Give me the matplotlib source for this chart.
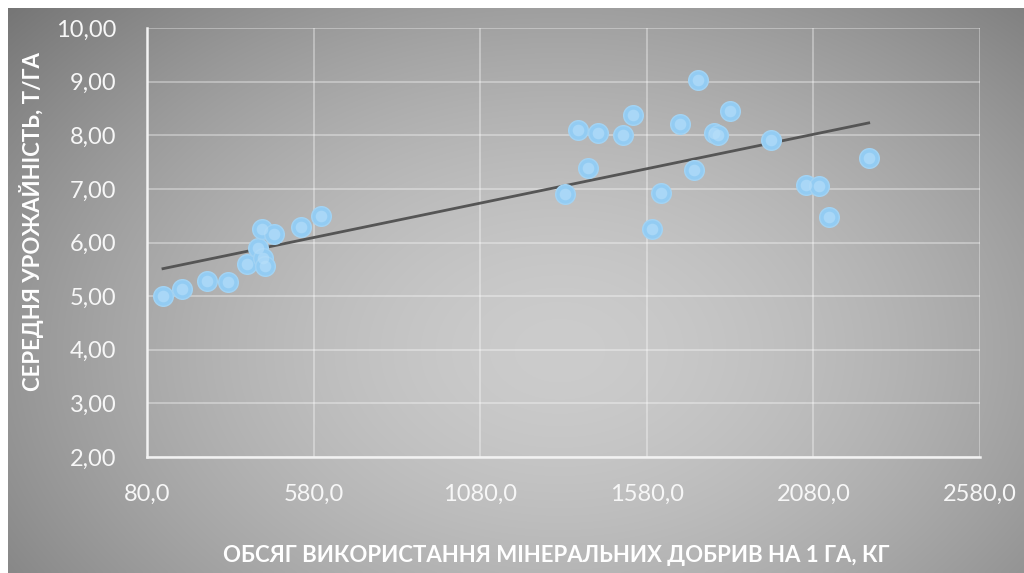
import matplotlib
matplotlib.use("Agg")
import matplotlib.pyplot as plt
import numpy as np
from matplotlib.ticker import FuncFormatter

# обсяг мінеральних добрив, кг/га та середня урожайність, т/га
fert = [128, 185, 260, 323, 380, 414, 426, 429, 435, 462, 543, 603,
        1336, 1375, 1405, 1435, 1510, 1540, 1597, 1624, 1681, 1723,
        1733, 1781, 1793, 1829, 1952, 2057, 2097, 2126, 2246]
yield_t = [5.01, 5.14, 5.29, 5.27, 5.59, 5.89, 6.26, 5.72, 5.57, 6.15, 6.28, 6.50,
           6.90, 8.09, 7.38, 8.04, 8.00, 8.37, 6.26, 6.93, 8.21, 7.36,
           9.03, 8.04, 8.00, 8.45, 7.92, 7.07, 7.05, 6.47, 7.57]

x_ticks = [80, 580, 1080, 1580, 2080, 2580]
y_ticks = [2, 3, 4, 5, 6, 7, 8, 9, 10]

xlabel = "ОБСЯГ ВИКОРИСТАННЯ МІНЕРАЛЬНИХ ДОБРИВ НА 1 ГА, КГ"
ylabel = "СЕРЕДНЯ УРОЖАЙНІСТЬ, Т/ГА"

plt.rcParams['font.family'] = ['Lato', 'DejaVu Sans']

W, H = 1024, 573
fig = plt.figure(figsize=(W / 100, H / 100), dpi=100, facecolor="white")

# сірий радіальний градієнт під діаграмою
bg = fig.add_axes([8 / W, 0, 1 - 8 / W, 1 - 8 / H])
bg.set_axis_off()
gx, gy = np.meshgrid(np.linspace(8, W, 400), np.linspace(8, H, 240))
r = np.sqrt(((gx - 560) / 600) ** 2 + ((gy - 230) / 420) ** 2)
shade = 204 - 62 * np.clip(r, 0, 1.3) ** 1.6
bg.imshow(np.dstack([shade] * 3) / 255, aspect="auto", extent=[0, 1, 0, 1],
          interpolation="bicubic")
bg.set_xlim(0, 1)
bg.set_ylim(1, 0)

ax = fig.add_axes([147 / W, 1 - 457 / H, (980 - 147) / W, (457 - 28) / H])
ax.patch.set_alpha(0)
ax.set_xlim(80, 2580)
ax.set_ylim(2, 10)
ax.set_xticks(x_ticks)
ax.set_yticks(y_ticks)
ax.xaxis.set_major_formatter(FuncFormatter(lambda v, p: f"{v:.1f}".replace(".", ",")))
ax.yaxis.set_major_formatter(FuncFormatter(lambda v, p: f"{v:.2f}".replace(".", ",")))
ax.grid(True, color="white", alpha=0.4, lw=1.2)
ax.set_axisbelow(True)
for s in ["top", "right"]:
    ax.spines[s].set_visible(False)
for s in ["left", "bottom"]:
    ax.spines[s].set_color("#f2f2f2")
    ax.spines[s].set_linewidth(1.8)
ax.tick_params(length=0, colors="#f7f7f7", labelsize=17)
ax.tick_params(axis="y", pad=22)
ax.tick_params(axis="x", pad=19)

# точки зі світлішим центром
ax.scatter(fert, yield_t, s=200, color="#93ccf3", edgecolor="#a3d3f3",
           linewidth=1.0, zorder=3)
ax.scatter(fert, yield_t, s=70, color="#b9e0fa", alpha=0.6, linewidth=0, zorder=4)

# лінійний тренд
k, b = np.polyfit(fert, yield_t, 1)
tx = np.array([min(fert), max(fert)])
ax.plot(tx, k * tx + b, color="#555555", lw=2, zorder=2)

fig.text(556 / W, 1 - 556 / H, xlabel, color="white", fontsize=16,
         fontweight="bold", ha="center", va="center")
fig.text(32 / W, 1 - 222 / H, ylabel, color="white", fontsize=16,
         fontweight="bold", ha="center", va="center", rotation=90)

fig.savefig("out.png", dpi=100, facecolor="white")
